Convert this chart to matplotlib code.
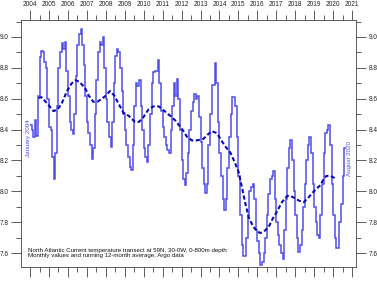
import numpy as np
import matplotlib
matplotlib.use("Agg")
import matplotlib.pyplot as plt
from matplotlib.ticker import MultipleLocator

plt.rcParams['font.family'] = ['Liberation Sans', 'DejaVu Sans']

# monthly 0-800m temperature, Jan 2004 .. Aug 2020
start_year = 2004
monthly = [
    8.43, 8.40, 8.35, 8.46, 8.36, 8.62, 8.87, 8.91, 8.90, 8.84, 8.80, 8.60,  # 2004
    8.42, 8.40, 8.22, 8.08, 8.25, 8.55, 8.80, 8.90, 8.96, 8.92, 8.97, 8.78,  # 2005
    8.62, 8.45, 8.40, 8.37, 8.50, 8.75, 8.95, 9.02, 9.05, 8.95, 8.82, 8.62,  # 2006
    8.45, 8.38, 8.30, 8.21, 8.28, 8.50, 8.72, 8.90, 8.97, 8.95, 9.00, 8.80,  # 2007
    8.60, 8.45, 8.35, 8.29, 8.45, 8.70, 8.88, 8.92, 8.90, 8.80, 8.65, 8.50,  # 2008
    8.40, 8.30, 8.22, 8.16, 8.14, 8.30, 8.55, 8.70, 8.68, 8.72, 8.55, 8.40,  # 2009
    8.28, 8.22, 8.19, 8.30, 8.50, 8.70, 8.77, 8.78, 8.78, 8.85, 8.70, 8.52,  # 2010
    8.42, 8.35, 8.30, 8.27, 8.25, 8.40, 8.55, 8.70, 8.62, 8.73, 8.60, 8.40,  # 2011
    8.20, 8.08, 8.04, 8.12, 8.25, 8.40, 8.52, 8.58, 8.63, 8.60, 8.62, 8.48,  # 2012
    8.32, 8.15, 8.05, 7.99, 8.05, 8.30, 8.50, 8.69, 8.69, 8.83, 8.70, 8.45,  # 2013
    8.25, 8.10, 7.95, 7.88, 7.95, 8.15, 8.35, 8.50, 8.61, 8.61, 8.55, 8.35,  # 2014
    8.10, 7.85, 7.65, 7.58, 7.58, 7.70, 7.85, 8.00, 8.03, 8.05, 7.95, 7.75,  # 2015
    7.68, 7.60, 7.52, 7.54, 7.60, 7.70, 7.85, 7.98, 8.08, 8.10, 8.13, 7.95,  # 2016
    7.80, 7.72, 7.65, 7.60, 7.56, 7.75, 7.95, 8.15, 8.28, 8.33, 8.20, 8.00,  # 2017
    7.85, 7.70, 7.61, 7.65, 7.75, 7.90, 8.05, 8.20, 8.30, 8.35, 8.25, 8.05,  # 2018
    7.90, 7.80, 7.72, 7.70, 7.85, 8.05, 8.25, 8.38, 8.40, 8.43, 8.30, 8.05,  # 2019
    7.85, 7.70, 7.63, 7.63, 7.80, 7.92, 8.10, 8.28,                          # 2020
]

# running 12-month average (decimal year, value)
avg_time = [2004.44, 2004.6, 2004.9, 2005.23, 2005.45, 2005.67, 2005.95, 2006.2,
            2006.4, 2006.6, 2006.9, 2007.1, 2007.34, 2007.55, 2007.79, 2008.0,
            2008.22, 2008.45, 2008.66, 2008.93, 2009.2, 2009.54, 2009.75, 2009.98,
            2010.25, 2010.5, 2010.8, 2011.1, 2011.39, 2011.66, 2011.92, 2012.1,
            2012.3, 2012.55, 2012.8, 2013.15, 2013.4, 2013.6, 2013.8, 2013.95,
            2014.15, 2014.38, 2014.58, 2014.8, 2015.0, 2015.18, 2015.37, 2015.55,
            2015.79, 2016.0, 2016.16, 2016.35, 2016.6, 2016.8, 2017.04, 2017.3,
            2017.57, 2017.75, 2017.92, 2018.2, 2018.45, 2018.7, 2018.98, 2019.15,
            2019.33, 2019.5, 2019.65, 2019.85, 2020.03, 2020.12]
avg_vals = [8.605, 8.61, 8.57, 8.52, 8.53, 8.57, 8.65, 8.70,
            8.72, 8.71, 8.67, 8.62, 8.58, 8.58, 8.60, 8.62,
            8.65, 8.62, 8.57, 8.51, 8.49, 8.45, 8.45, 8.48,
            8.53, 8.55, 8.55, 8.52, 8.49, 8.46, 8.42, 8.39,
            8.35, 8.33, 8.33, 8.34, 8.37, 8.39, 8.38, 8.36,
            8.32, 8.28, 8.25, 8.19, 8.13, 8.03, 7.92, 7.83,
            7.77, 7.74, 7.73, 7.74, 7.77, 7.82, 7.87, 7.93,
            7.97, 7.97, 7.96, 7.94, 7.93, 7.96, 8.00, 8.02,
            8.04, 8.08, 8.10, 8.10, 8.09, 8.08]

years = list(range(2004, 2022))
caption = ("North Atlantic Current temperature transect at 59N, 30-0W, 0-800m depth\n"
           "Monthly values and running 12-month average, Argo data")

line_col = '#5050e6'
avg_col = '#0a0ab4'

fig = plt.figure(figsize=(3.77, 2.84), dpi=100)
ax = fig.add_axes([21/377, 1-267/284, 335/377, 247/284])

edges = start_year + np.arange(len(monthly) + 1) / 12.0
ax.stairs(monthly, edges, baseline=None, color=line_col, lw=1.1)
ax.plot(avg_time, avg_vals, color=avg_col, lw=1.5, ls=(0, (2.0, 1.2)))

ax.set_xlim(2003.52, 2021.21)
ax.set_ylim(7.51, 9.11)

ax.set_xticks(years)
ax.set_xticklabels([str(y) for y in years])
ax.xaxis.set_minor_locator(MultipleLocator(0.5))
ax.yaxis.set_major_locator(MultipleLocator(0.2))
ax.yaxis.set_minor_locator(MultipleLocator(0.1))
ax.yaxis.set_major_formatter(matplotlib.ticker.FormatStrFormatter('%.1f'))

ax.tick_params(which='both', direction='out', top=True, bottom=True, left=True, right=True,
               labeltop=True, labelbottom=False, labelleft=True, labelright=True,
               width=0.6, colors='#444444', labelsize=4.7, labelcolor='#222222')
ax.tick_params(which='major', length=7.2)
ax.tick_params(which='minor', length=3.6)
ax.tick_params(axis='x', pad=1.2)
ax.tick_params(axis='y', which='major', pad=1.8)
for s in ax.spines.values():
    s.set_linewidth(0.6)
    s.set_color('#444444')

ax.text(2003.9, 8.22, 'January 2004', rotation=90, ha='center', va='bottom',
        fontsize=4.5, color=line_col)
ax.text(2020.87, 8.10, 'August 2020', rotation=90, ha='center', va='bottom',
        fontsize=4.5, color=line_col)
ax.text(2003.9, 7.60, caption, ha='left', va='center', fontsize=4.4,
        color='#111111', linespacing=1.15)

fig.savefig('out.png', dpi=100)
